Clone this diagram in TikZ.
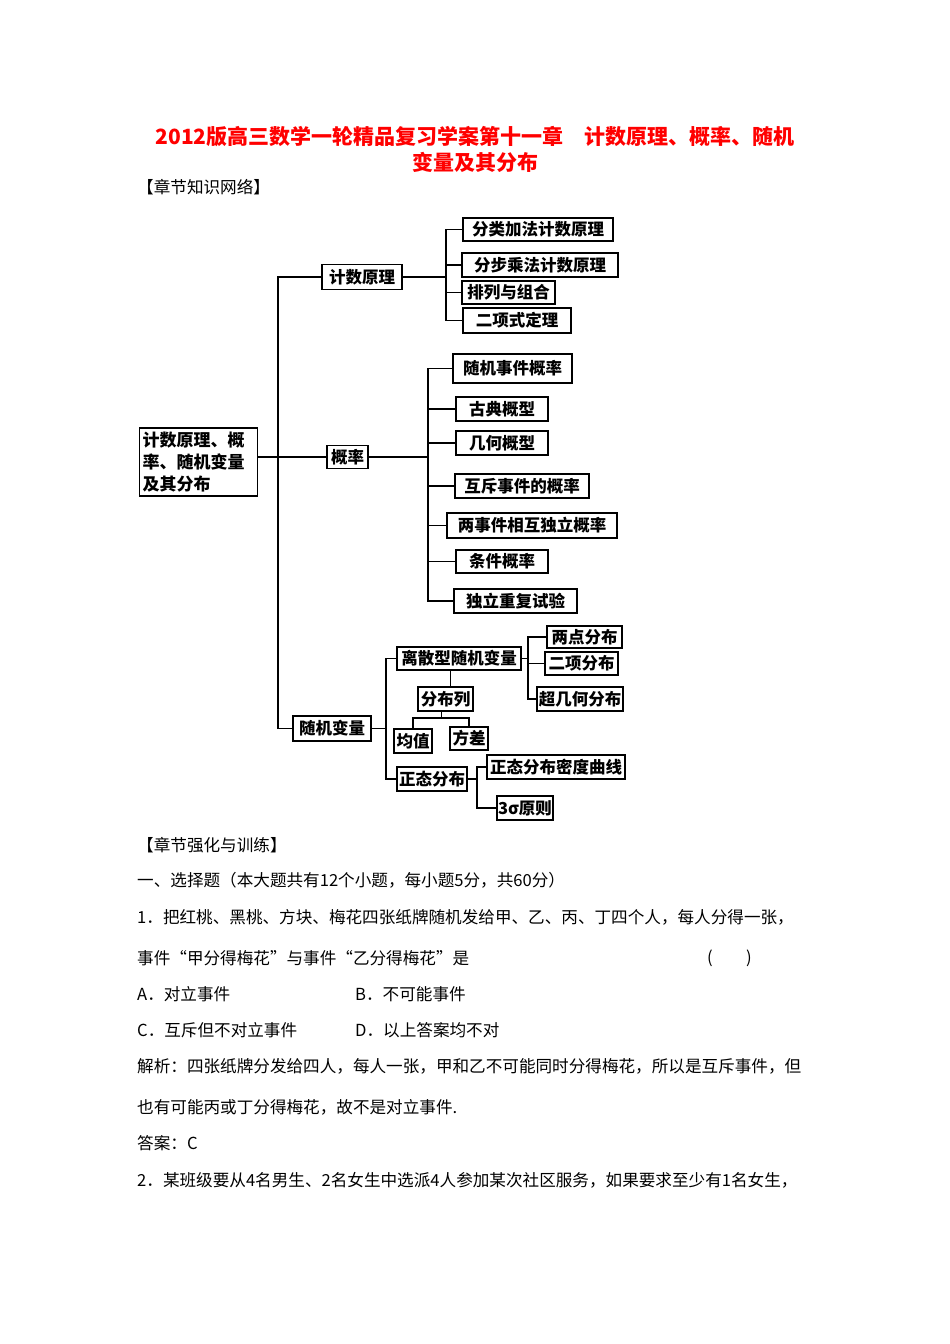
\documentclass[tikz,border=0pt]{standalone}
\usepackage{fontspec}
\setmainfont{Noto Sans CJK SC}
\begin{document}
\begin{tikzpicture}[x=1pt,y=-1pt,
  bx/.style={draw,line width=1.3pt,inner sep=0pt,font=\fontsize{16.5}{18}\selectfont\bfseries},
  ln/.style={line width=1.3pt},
  tx/.style={anchor=west,inner sep=0pt,font=\fontsize{16.6}{18}\selectfont},
  tt/.style={inner sep=0pt,text=red,font=\fontsize{21}{23}\selectfont\bfseries}]
\useasboundingbox (0,0) rectangle (950,1344);
\fill[white] (0,0) rectangle (950,1344);
\node[tt] (t1) at (475,137) {2012版高三数学一轮精品复习学案第十一章\quad 计数原理、概率、随机};
\node[tt] (t2) at (475,162) {变量及其分布};
\node[tx] (s1) at (137,187) {【章节知识网络】};
% root
\node[bx,minimum width=117pt,minimum height=68pt,align=left,text width=112pt,inner xsep=3pt,font=\fontsize{17}{22}\selectfont\bfseries] (root) at (198.5,462) {计数原理、概\\率、随机变量\\及其分布};
\node[bx,minimum width=80pt,minimum height=25pt] (a) at (362,277) {计数原理};
\node[bx,minimum width=41pt,minimum height=23pt] (b) at (347.5,457) {概率};
\node[bx,minimum width=78pt,minimum height=25pt] (c) at (332,728.5) {随机变量};
\draw[ln] (root.east |- b) -- (b.west);
\draw[ln] (a.west) -- (278,277) -- (278,728.5) -- (c.west);
% a children
\node[bx,minimum width=150pt,minimum height=23pt] (a1) at (538,229.5) {分类加法计数原理};
\node[bx,minimum width=156pt,minimum height=24pt] (a2) at (540,265) {分步乘法计数原理};
\node[bx,minimum width=93pt,minimum height=23pt] (a3) at (508.5,292.5) {排列与组合};
\node[bx,minimum width=108pt,minimum height=25pt] (a4) at (517,320.5) {二项式定理};
\draw[ln] (a.east) -- (446,277);
\draw[ln] (a1.west) -- (446,229.5) -- (446,320.5) -- (a4.west);
\draw[ln] (446,265) -- (a2.west);
\draw[ln] (446,292.5) -- (a3.west);
% b children
\node[bx,minimum width=119pt,minimum height=29pt] (b1) at (512.5,368.5) {随机事件概率};
\node[bx,minimum width=92pt,minimum height=24pt] (b2) at (502,409) {古典概型};
\node[bx,minimum width=92pt,minimum height=24pt] (b3) at (502,443) {几何概型};
\node[bx,minimum width=134pt,minimum height=24pt] (b4) at (522,486) {互斥事件的概率};
\node[bx,minimum width=170pt,minimum height=25pt] (b5) at (532,525.5) {两事件相互独立概率};
\node[bx,minimum width=92pt,minimum height=23pt] (b6) at (502,561.5) {条件概率};
\node[bx,minimum width=123pt,minimum height=24pt] (b7) at (515.5,601) {独立重复试验};
\draw[ln] (b.east) -- (428,457);
\draw[ln] (b1.west) -- (428,368.5) -- (428,601) -- (b7.west);
\foreach \n in {b2,b3,b4,b5,b6} \draw[ln] (428,0 |- \n.west) -- (\n.west);
% c children
\node[bx,minimum width=124pt,minimum height=23pt] (c1) at (459,658.5) {离散型随机变量};
\node[bx,minimum width=75pt,minimum height=22pt] (c11) at (584.5,637) {两点分布};
\node[bx,minimum width=73pt,minimum height=23pt] (c12) at (581.5,663.5) {二项分布};
\node[bx,minimum width=86pt,minimum height=24pt] (c13) at (580,699) {超几何分布};
\node[bx,minimum width=55pt,minimum height=24pt] (c2) at (445.5,699) {分布列};
\node[bx,minimum width=38pt,minimum height=24pt] (c21) at (413,741) {均值};
\node[bx,minimum width=38pt,minimum height=23pt] (c22) at (469,738.5) {方差};
\node[bx,minimum width=70pt,minimum height=24pt] (c3) at (432,779) {正态分布};
\node[bx,minimum width=138pt,minimum height=24pt] (c31) at (556,767) {正态分布密度曲线};
\node[bx,minimum width=56pt,minimum height=24pt] (c32) at (525,808) {3σ原则};
\draw[ln] (c.east) -- (386,728.5);
\draw[ln] (c1.west) -- (386,658.5) -- (386,779) -- (c3.west);
\draw[ln] (c1.east) -- (528,658.5);
\draw[ln] (c11.west) -- (528,637) -- (528,699) -- (c13.west);
\draw[ln] (528,663.5) -- (c12.west);
\draw[thin] (450,0 |- c1.south) -- (450,0 |- c2.north);
\draw[thin] (441,0 |- c2.south) -- (441,718);
\draw[ln] (c21.north) -- (413,718) -- (469,718) -- (c22.north);
\draw[ln] (c3.east) -- (477,779);
\draw[ln] (c31.west) -- (477,767) -- (477,808) -- (c32.west);
% text
\node[tx] (s2) at (137,845) {【章节强化与训练】};
\node[tx] (l1) at (137,880) {一、选择题（本大题共有12个小题，每小题5分，共60分）};
\node[tx] (l2) at (137,917) {1．把红桃、黑桃、方块、梅花四张纸牌随机发给甲、乙、丙、丁四个人，每人分得一张，};
\node[tx] (l3) at (137,958) {事件“甲分得梅花”与事件“乙分得梅花”是};
\node[tx] (l3b) at (707,958) {(\qquad)};
\node[tx] (l4) at (137,994) {A．对立事件};
\node[tx] (l4b) at (355,994) {B．不可能事件};
\node[tx] (l5) at (137,1030) {C．互斥但不对立事件};
\node[tx] (l5b) at (355,1030) {D．以上答案均不对};
\node[tx] (l6) at (137,1066) {解析：四张纸牌分发给四人，每人一张，甲和乙不可能同时分得梅花，所以是互斥事件，但};
\node[tx] (l7) at (137,1107) {也有可能丙或丁分得梅花，故不是对立事件.};
\node[tx] (l8) at (137,1143) {答案：C};
\node[tx] (l9) at (137,1180) {2．某班级要从4名男生、2名女生中选派4人参加某次社区服务，如果要求至少有1名女生，};
\end{tikzpicture}
\end{document}
